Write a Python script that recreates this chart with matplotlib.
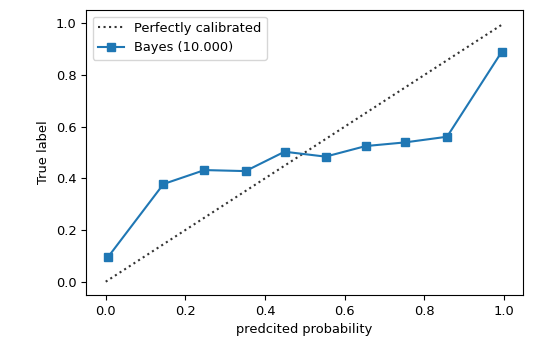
import matplotlib
matplotlib.use("Agg")
import matplotlib.pyplot as plt

mean_pred = [0.0066, 0.145, 0.248, 0.351, 0.449, 0.552, 0.653, 0.751, 0.857, 0.994]
frac_pos = [0.097, 0.378, 0.432, 0.428, 0.503, 0.484, 0.525, 0.539, 0.561, 0.889]
diag = [0, 1]

plt.rcParams["font.size"] = 9.4
fig = plt.figure(figsize=(5.59, 3.47), dpi=100)
ax = fig.add_axes([86/559, 1 - 295/347, (523-86)/559, (295-10)/347])
ax.plot(diag, diag, ":", color="#333333", label="Perfectly calibrated")
ax.plot(mean_pred, frac_pos, "s-", color="#1f77b4", label="Bayes (10.000)")
ax.set_ylim(-0.0515, 1.0515)
ax.set_xlim(-0.0495, 1.0477)
ax.set_ylabel("True label")
ax.set_xlabel("predcited probability")
ax.legend(loc="upper left")
fig.savefig("out.png", dpi=100)
